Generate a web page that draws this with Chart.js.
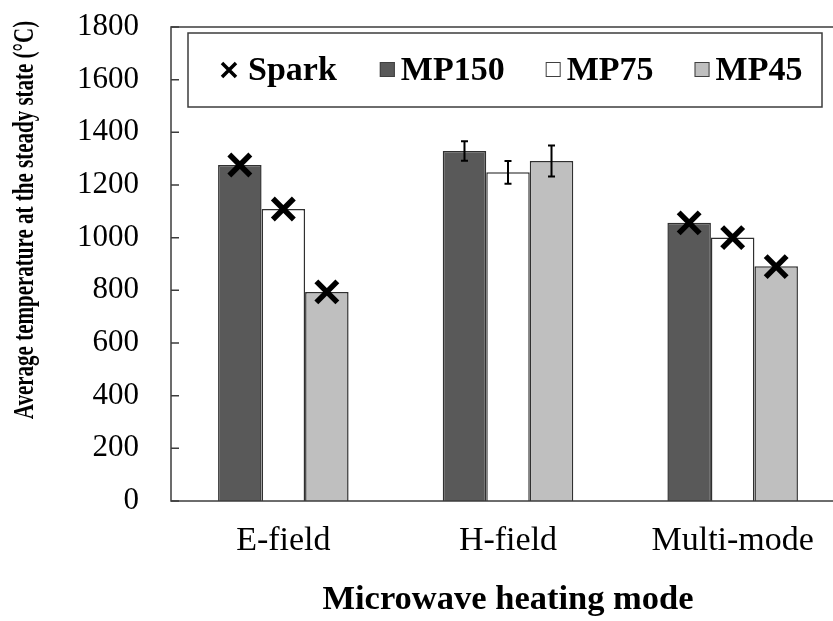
<!DOCTYPE html>
<html>
<head>
<meta charset="utf-8">
<script src="https://cdn.jsdelivr.net/npm/chart.js@4.4.1/dist/chart.umd.min.js"></script>
<style>
  html, body { margin: 0; padding: 0; background: #fff; overflow: hidden; }
  canvas { display: block; }
</style>
</head>
<body>
<canvas id="tempChart" width="850" height="621"></canvas>
<script>
var modes = ["E-field", "H-field", "Multi-mode"];
var seriesNames = ["MP150", "MP75", "MP45"];
var mp150 = [1276, 1329, 1057];
var mp75 = [1109, 1248, 1001];
var mp45 = [794, 1291, 891];
// std dev, only the H-field runs have it
var mp150Err = [null, 37, null];
var mp75Err = [null, 43, null];
var mp45Err = [null, 59, null];
// temperature where sparking showed up (null = no spark)
var sparkMP150 = [1276, null, 1056];
var sparkMP75 = [1109, null, 1000];
var sparkMP45 = [794, null, 890];
var yTicks = [0, 200, 400, 600, 800, 1000, 1200, 1400, 1600, 1800];

var SERIF = '"Liberation Serif", "Times New Roman", serif';
var fills = ["#595959", "#ffffff", "#bfbfbf"];

function drawCross(ctx, x, y, r, lw) {
  ctx.save();
  ctx.strokeStyle = "#000";
  ctx.lineWidth = lw;
  ctx.lineCap = "butt";
  ctx.beginPath();
  ctx.moveTo(x - r, y - r); ctx.lineTo(x + r, y + r);
  ctx.moveTo(x + r, y - r); ctx.lineTo(x - r, y + r);
  ctx.stroke();
  ctx.restore();
}

// error bars, spark marks, plot frame, legend box and y title
var extras = {
  id: "extras",
  afterDatasetsDraw: function(chart) {
    var ctx = chart.ctx, ys = chart.scales.y, area = chart.chartArea;
    chart.data.datasets.forEach(function(ds, di) {
      var meta = chart.getDatasetMeta(di);
      meta.data.forEach(function(bar, i) {
        var e = ds.errors[i];
        if (e != null) {
          var top = ys.getPixelForValue(ds.data[i] + e);
          var bot = ys.getPixelForValue(ds.data[i] - e);
          ctx.save();
          ctx.strokeStyle = "#000";
          ctx.lineWidth = 2;
          ctx.beginPath();
          ctx.moveTo(bar.x, top); ctx.lineTo(bar.x, bot);
          ctx.moveTo(bar.x - 3.5, top); ctx.lineTo(bar.x + 3.5, top);
          ctx.moveTo(bar.x - 3.5, bot); ctx.lineTo(bar.x + 3.5, bot);
          ctx.stroke();
          ctx.restore();
        }
        var s = ds.spark[i];
        if (s != null) drawCross(ctx, bar.x, ys.getPixelForValue(s), 10.5, 5.5);
      });
    });

    // frame + inward ticks
    ctx.save();
    ctx.strokeStyle = "#3c3c3c";
    ctx.lineWidth = 1.5;
    ctx.strokeRect(area.left, area.top, area.right - area.left, area.bottom - area.top);
    ctx.beginPath();
    ys.ticks.forEach(function(t) {
      var py = ys.getPixelForValue(t.value);
      ctx.moveTo(area.left, py); ctx.lineTo(area.left + 8, py);
    });
    ctx.stroke();
    ctx.restore();
  },
  afterDraw: function(chart) {
    var ctx = chart.ctx, area = chart.chartArea;

    // legend
    var bx = area.left + 17, by = area.top + 6, bw = 634, bh = 74;
    ctx.save();
    ctx.fillStyle = "#fff";
    ctx.fillRect(bx, by, bw, bh);
    ctx.strokeStyle = "#3c3c3c";
    ctx.lineWidth = 1.5;
    ctx.strokeRect(bx, by, bw, bh);
    ctx.font = "bold 34px " + SERIF;
    ctx.textBaseline = "middle";
    ctx.fillStyle = "#000";
    var cy = by + bh / 2 + 1;
    var x = bx + 33;
    drawCross(ctx, x + 8, cy - 1, 7, 3.5);
    x += 27;
    ctx.fillText("Spark", x, cy);
    x += ctx.measureText("Spark").width + 43;
    chart.data.datasets.forEach(function(ds) {
      ctx.fillStyle = ds.backgroundColor;
      ctx.fillRect(x, cy - 9, 15, 15);
      ctx.strokeStyle = "#404040";
      ctx.lineWidth = 1;
      ctx.strokeRect(x + 0.5, cy - 8.5, 14, 14);
      x += 21;
      ctx.fillStyle = "#000";
      ctx.fillText(ds.label, x, cy);
      x += ctx.measureText(ds.label).width + 41;
    });
    ctx.restore();

    // y axis title, set condensed
    ctx.save();
    ctx.translate(25, 220);
    ctx.rotate(-Math.PI / 2);
    ctx.scale(0.7, 1);
    ctx.font = "bold 30px " + SERIF;
    ctx.textAlign = "center";
    ctx.textBaseline = "middle";
    ctx.fillStyle = "#000";
    ctx.fillText("Average temperature at the steady state (\u00B0C)", 0, 0);
    ctx.restore();
  }
};

var ctxT = document.getElementById("tempChart").getContext("2d");
var tempChart = new Chart(ctxT, {
  type: "bar",
  data: {
    labels: modes,
    datasets: [
      { label: seriesNames[0], data: mp150, errors: mp150Err, spark: sparkMP150,
        backgroundColor: fills[0], borderColor: "#303030", borderWidth: 1.5 },
      { label: seriesNames[1], data: mp75, errors: mp75Err, spark: sparkMP75,
        backgroundColor: fills[1], borderColor: "#303030", borderWidth: 1.5 },
      { label: seriesNames[2], data: mp45, errors: mp45Err, spark: sparkMP45,
        backgroundColor: fills[2], borderColor: "#303030", borderWidth: 1.5 }
    ]
  },
  options: {
    responsive: false,
    animation: false,
    layout: { padding: { top: 27, right: 5, left: 0, bottom: 0 } },
    datasets: { bar: { categoryPercentage: 0.581, barPercentage: 1.0 } },
    plugins: {
      legend: { display: false },
      tooltip: { enabled: false }
    },
    scales: {
      x: {
        grid: { display: false, drawTicks: false },
        border: { display: false },
        ticks: { color: "#000", padding: 20, font: { family: SERIF, size: 34 } },
        title: {
          display: true,
          text: "Microwave heating mode",
          color: "#000",
          padding: { top: 0, bottom: 0 },
          font: { family: SERIF, size: 34.5, weight: "bold" }
        },
        afterFit: function(scale) { scale.height = 120; }
      },
      y: {
        min: yTicks[0],
        max: yTicks[yTicks.length - 1],
        grid: { display: false, drawTicks: false },
        border: { display: false },
        ticks: {
          stepSize: yTicks[1] - yTicks[0],
          color: "#000",
          padding: 32,
          font: { family: SERIF, size: 31 },
          callback: function(v) { return String(v); }
        },
        afterFit: function(scale) {
          scale.width = 171;
          scale.paddingTop = 0;
          scale.paddingBottom = 0;
        }
      }
    }
  },
  plugins: [extras]
});
</script>
</body>
</html>
